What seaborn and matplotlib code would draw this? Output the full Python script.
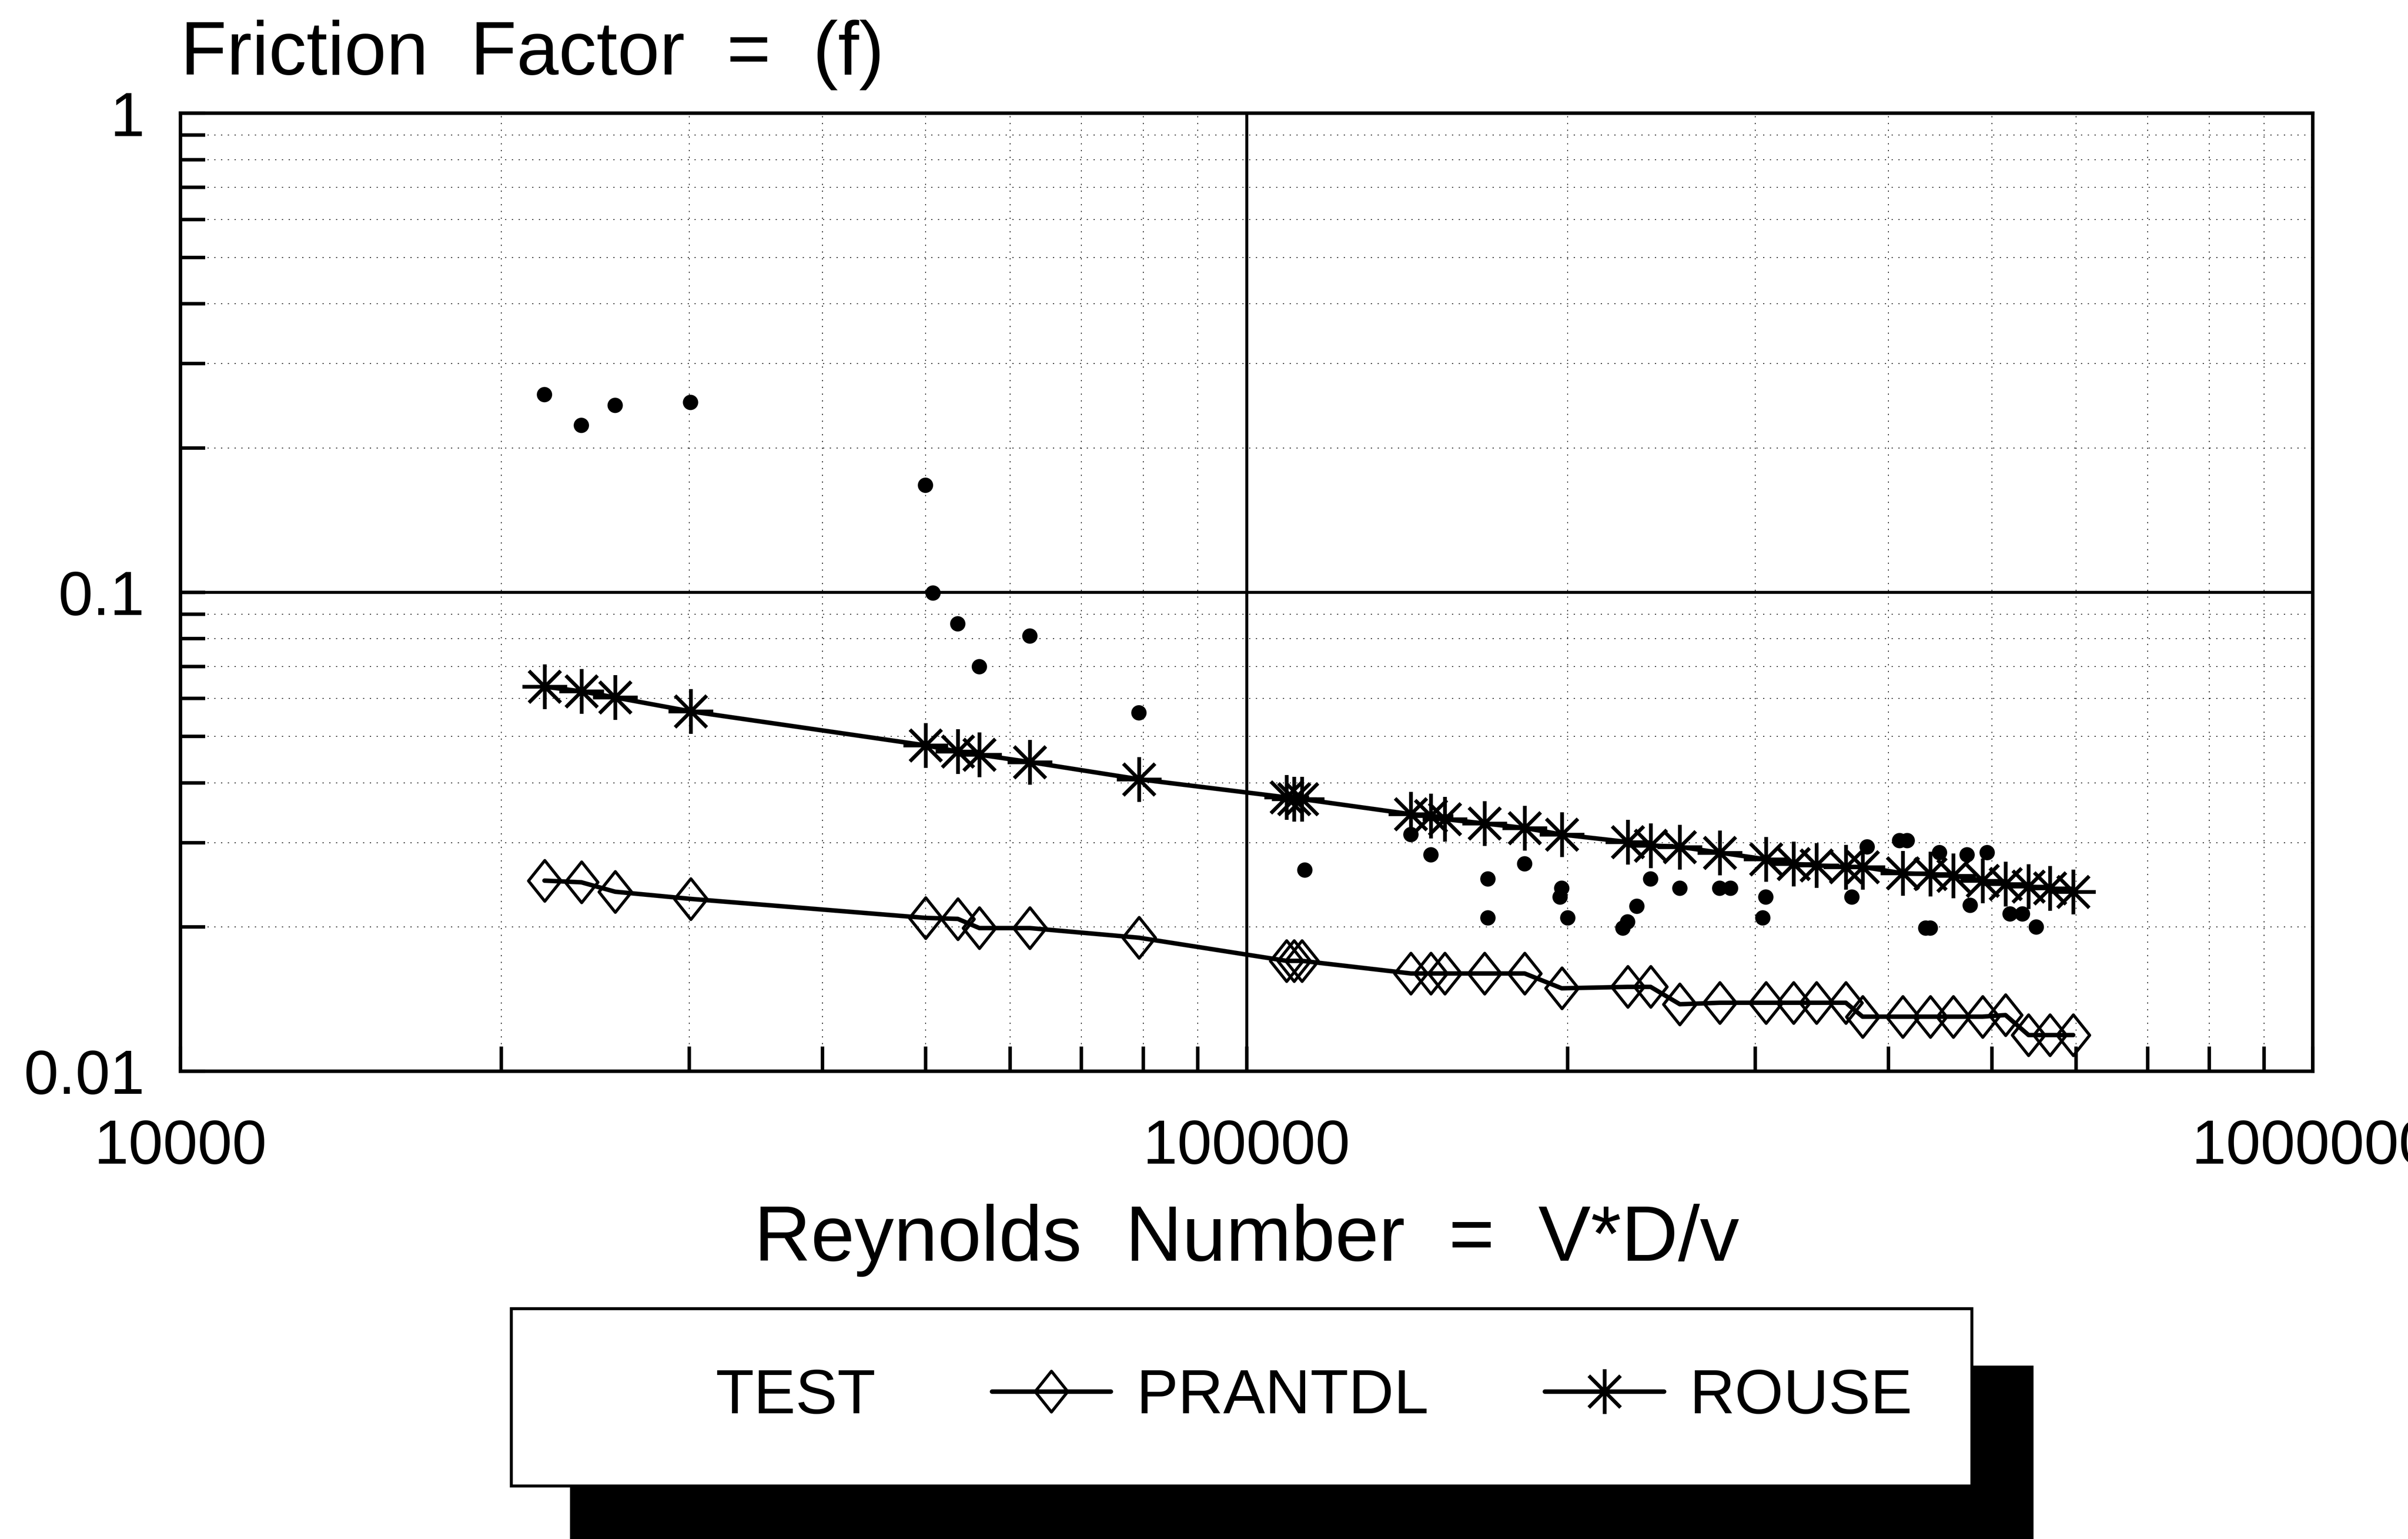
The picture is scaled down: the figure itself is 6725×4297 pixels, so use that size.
import numpy as np
import matplotlib
matplotlib.use("Agg")
import matplotlib.pyplot as plt
from matplotlib.lines import Line2D
from matplotlib.path import Path
from matplotlib.ticker import FixedLocator, FixedFormatter, LogLocator, NullFormatter
import seaborn as sns

# ------------------------------------------------------------------
# data
# ------------------------------------------------------------------
# Reynolds numbers of the runs (shared by both model curves)
reynolds = [21950, 23770, 25570, 30090, 49980, 53590, 56150, 62620, 79250,
            109000, 110800, 112700, 142600, 148900, 153400, 167200, 182300,
            197500, 227700, 239300, 254900, 277800, 306900, 325800, 342400,
            364800, 378200, 412500, 437800, 460200, 490000, 515000, 541300,
            567000, 596100]

rouse_f = [0.0635, 0.0621, 0.0603, 0.0564, 0.0479, 0.0465, 0.0458, 0.0442, 0.0407,
           0.0373, 0.0370, 0.0370, 0.0344, 0.0341, 0.0336, 0.0329, 0.0322,
           0.0312, 0.0301, 0.0296, 0.0294, 0.0286, 0.0277, 0.0271, 0.0269,
           0.0267, 0.0267, 0.0259, 0.0258, 0.0256, 0.0250, 0.0246, 0.0243,
           0.0241, 0.0237]

prandtl_f = [0.0250, 0.0248, 0.0237, 0.0229, 0.0209, 0.0208, 0.0199, 0.0199, 0.0190,
             0.0170, 0.0170, 0.0170, 0.0160, 0.0160, 0.0160, 0.0160, 0.0160,
             0.0149, 0.0150, 0.0150, 0.0138, 0.0139, 0.0139, 0.0139, 0.0139,
             0.0139, 0.0130, 0.0130, 0.0130, 0.0130, 0.0130, 0.0131, 0.0119,
             0.0119, 0.0119]

# measured friction factors
test_re = [21950, 23770, 25570, 30090, 49980, 50800, 53590, 56150, 62620, 79250,
           113400, 142600, 148900, 168400, 168400, 182300, 197500, 196800, 200100,
           232300, 227700, 225400, 239300, 254900, 277800, 284400, 306900, 304900,
           369600, 382000, 409700, 416500, 433500, 437800, 446600, 474000, 495000,
           477200, 520100, 534200, 550400]
test_f = [0.2585, 0.2230, 0.2455, 0.2490, 0.1672, 0.0996, 0.0859, 0.0699, 0.0810, 0.0560,
          0.0263, 0.0312, 0.0283, 0.0252, 0.0209, 0.0271, 0.0241, 0.0231, 0.0209,
          0.0221, 0.0205, 0.0199, 0.0252, 0.0241, 0.0241, 0.0241, 0.0231, 0.0209,
          0.0231, 0.0294, 0.0303, 0.0303, 0.0199, 0.0199, 0.0286, 0.0283, 0.0286,
          0.0222, 0.0213, 0.0213, 0.0200]

x_ticks = [1e4, 1e5, 1e6]
x_labels = ["10000", "100000", "1000000"]
y_ticks = [0.01, 0.1, 1]
y_labels = ["0.01", "0.1", "1"]

series_labels = ["TEST", "PRANTDL", "ROUSE"]

# ------------------------------------------------------------------
# style
# ------------------------------------------------------------------
sns.set_style("white")
plt.rcParams["font.family"] = ["Liberation Sans", "DejaVu Sans"]
plt.rcParams["text.color"] = "black"
plt.rcParams["axes.labelcolor"] = "black"
plt.rcParams["xtick.color"] = "black"
plt.rcParams["ytick.color"] = "black"

W, H = 6725, 4297
fig = plt.figure(figsize=(W / 100, H / 100), dpi=100)
ax = fig.add_axes([504 / W, 1 - 2991 / H, (6459 - 504) / W, (2991 - 316) / H])
ax.set_xscale("log")
ax.set_yscale("log")

# hollow diamond and 8-armed asterisk, as on the original plotter output
diamond = Path([(-0.8, 0), (0, 1), (0.8, 0), (0, -1), (-0.8, 0)], closed=True)
asterisk = (8, 2, 0)
LW = 9
DIA_MS, DIA_MEW = 82, 6
AST_MS, AST_MEW = 90, 7

# model curves
sns.lineplot(x=reynolds, y=prandtl_f, ax=ax, color="black", linewidth=LW,
             marker=diamond, markersize=DIA_MS, markerfacecolor="none",
             markeredgecolor="black", markeredgewidth=DIA_MEW,
             estimator=None, sort=False, zorder=4)
sns.lineplot(x=reynolds, y=rouse_f, ax=ax, color="black", linewidth=LW,
             marker=asterisk, markersize=AST_MS,
             markeredgecolor="black", markeredgewidth=AST_MEW,
             estimator=None, sort=False, zorder=4)

# test points
sns.scatterplot(x=test_re, y=test_f, ax=ax, color="black", s=950, marker="o",
                edgecolor="none", zorder=5)

# heavy cross lines at 100000 and 0.1
ax.axvline(1e5, color="black", lw=6, zorder=3)
ax.axhline(0.1, color="black", lw=6, zorder=3)

ax.set_xlim(1e4, 1e6)
ax.set_ylim(0.01, 1)

ax.xaxis.set_major_locator(FixedLocator(x_ticks))
ax.xaxis.set_major_formatter(FixedFormatter(x_labels))
ax.xaxis.set_minor_locator(LogLocator(base=10, subs=np.arange(2, 10)))
ax.xaxis.set_minor_formatter(NullFormatter())
ax.yaxis.set_major_locator(FixedLocator(y_ticks))
ax.yaxis.set_major_formatter(FixedFormatter(y_labels))
ax.yaxis.set_minor_locator(LogLocator(base=10, subs=np.arange(2, 10)))
ax.yaxis.set_minor_formatter(NullFormatter())

ax.tick_params(which="both", direction="in", length=50, width=7,
               top=False, right=False, bottom=True, left=True)
ax.tick_params(axis="x", which="major", labelsize=125, pad=94)
ax.tick_params(axis="y", which="major", labelsize=125, pad=72)

ax.grid(True, which="both", color="black", linewidth=1.6, linestyle=(0, (1.5, 7)))
for sp in ax.spines.values():
    sp.set_linewidth(7)
    sp.set_color("black")

ax.set_title("Friction  Factor  =  (f)", loc="left", fontsize=152, pad=78)
ax.set_xlabel("Reynolds  Number  =  V*D/v", fontsize=158, labelpad=55)
ax.set_ylabel("")

# legend with solid drop shadow
handles = [
    Line2D([], [], linestyle="none", marker=None),
    Line2D([], [], color="black", lw=LW, marker=diamond, markersize=DIA_MS,
           markerfacecolor="none", markeredgecolor="black", markeredgewidth=DIA_MEW),
    Line2D([], [], color="black", lw=LW, marker=asterisk, markersize=AST_MS,
           markeredgecolor="black", markeredgewidth=AST_MEW),
]
leg = ax.legend(handles, series_labels, ncol=3, loc="upper left",
                bbox_to_anchor=(1428 / W, 1 - 3654 / H), bbox_transform=fig.transFigure,
                borderaxespad=0, fontsize=126, frameon=True, fancybox=False,
                framealpha=1, edgecolor="black", handlelength=1.9,
                handletextpad=0.41, columnspacing=1.85, borderpad=0.95,
                shadow={"ox": 121, "oy": -117, "color": "black", "alpha": 1})
leg.get_frame().set_linewidth(6)

fig.savefig("out.png", dpi=100)
